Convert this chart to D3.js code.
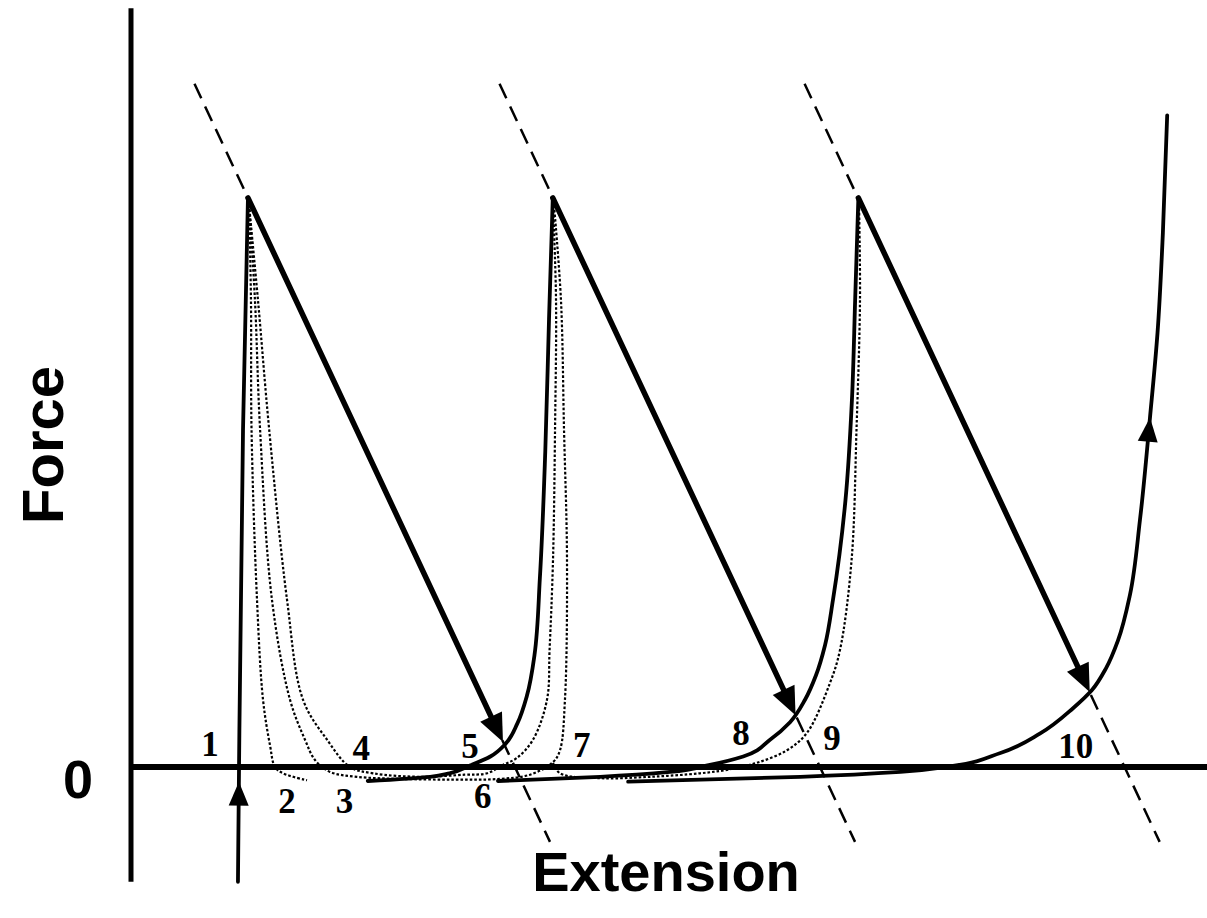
<!DOCTYPE html>
<html>
<head>
<meta charset="utf-8">
<script src="https://cdn.jsdelivr.net/npm/d3@7/dist/d3.min.js"></script>
<style>
  html, body { margin: 0; padding: 0; background: #fff; }
  svg { display: block; }
</style>
</head>
<body>
<svg id="chart" width="1207" height="918"></svg>
<script>
// ---------- data (abstract units: extension 0..100, force 0..100) ----------
const xAxisExtent = [0, 100];
const yAxisExtent = [-16.4, 108.4];
const yTickLabels = [0];
const xTitle = "Extension";
const yTitle = "Force";

// solid loading curves
const loadCurve0 = [[9.94,-16.4],[10.04,0],[10.41,48.1],[10.87,81.3]];
const loadCurve1 = [[22.0,-2.0],[27.8,-1.4],[29.6,-0.9],[31.5,0.2],[33.4,1.5],[34.8,3.3],[35.9,6.2],[36.8,10.2],[37.5,16.0],[38.0,27.0],[38.5,45.0],[38.85,64.0],[39.2,81.3]];
const loadCurve2 = [[34.1,-2.0],[43.6,-1.4],[50.1,-0.7],[53.8,0.3],[56.9,1.5],[59.39,3.9],[61.25,6.4],[62.64,9.6],[63.66,13.1],[64.5,17.4],[65.24,23.9],[66.4,38.1],[67.0,52.4],[67.3,66.7],[67.6,81.3]];
const loadCurve3 = [[46.2,-2.1],[62.2,-1.4],[71.5,-0.7],[76.1,0.1],[80.8,2.0],[84.5,4.8],[87.55,8.4],[89.31,11.0],[90.61,14.1],[91.73,18.1],[92.84,24.6],[93.77,35.3],[94.7,49.9],[95.4,62.0],[95.9,76.3],[96.3,93.1]];

// dotted relaxation curves
const relaxCurve1 = [[10.97,80.3],[11.15,66.7],[11.2,48.4],[11.71,23.9],[12.27,9.6],[12.92,3.1],[13.38,0],[14.13,-0.9],[16.36,-1.9]];
const relaxCurve2 = [[10.97,80.3],[11.52,66.7],[11.99,48.4],[13.10,23.9],[14.78,9.6],[16.17,3.9],[17.10,1.0],[18.49,-0.7],[21.0,-1.4],[25.0,-1.7],[30.0,-1.8],[34.29,-1.7],[37.08,-1.1],[39.22,0.7],[39.87,2.4],[40.33,9.6],[40.52,29.6],[40.24,48.4],[39.96,66.7],[39.31,80.3]];
const relaxCurve3 = [[10.97,80.3],[11.80,66.7],[12.83,48.4],[14.50,23.9],[15.99,9.6],[18.22,3.9],[20.35,0],[22.49,-0.9],[26.86,-1.4],[31.0,-1.1],[33.09,-0.9],[34.57,0.3],[35.87,1.3],[37.36,3.9],[38.66,9.6],[38.9,16.7],[39.22,29.6],[39.41,48.4],[39.50,66.7],[39.22,80.3]];
const relaxCurve4 = [[39.22,0.6],[39.87,-0.9],[43.59,-1.6],[48.23,-1.4],[52.88,-0.9],[55.39,-0.4],[58.18,0.6],[60.97,2.4],[62.83,4.9],[64.96,12.0],[65.89,16.7],[66.97,29.6],[67.43,48.4],[67.75,66.7],[67.66,80.3]];

// rupture arrows (peak -> tip) and their dashed guide lines
const peaks = [[10.87,81.3],[39.2,81.3],[67.6,81.3]];
const arrowTips = [[34.57,3.57],[61.76,7.4],[89.1,10.7]];
const dashTop = [[5.9,97.6],[34.25,97.6],[62.6,97.6]];
const dashBottom = [[38.94,-10.7],[67.29,-10.7],[95.6,-10.7]];

// state labels
const stateLabels = ["1","2","3","4","5","6","7","8","9","10"];
const stateLabelX = [7.34,14.5,19.85,21.4,31.5,32.7,41.9,56.7,65.15,87.8];
const stateLabelY = [1.6,-6.6,-6.6,1.0,1.3,-5.9,1.4,3.1,2.4,1.3];

// ---------- drawing ----------
const svg = d3.select("#chart");
const x = d3.scaleLinear().domain([0,100]).range([131,1207]);
const y = d3.scaleLinear().domain([0,100]).range([767,67]);

const dottedLine = d3.line().x(d => x(d[0])).y(d => y(d[1])).curve(d3.curveCatmullRom.alpha(0.5));
const solidLine = d3.line().x(d => x(d[0])).y(d => y(d[1])).curve(d3.curveMonotoneY);

// axes
svg.append("line")
  .attr("x1", x(0)).attr("x2", x(0))
  .attr("y1", y(yAxisExtent[0])).attr("y2", y(yAxisExtent[1]))
  .attr("stroke", "#000").attr("stroke-width", 5);
svg.append("line")
  .attr("x1", x(xAxisExtent[0])).attr("x2", x(xAxisExtent[1]))
  .attr("y1", y(0)).attr("y2", y(0))
  .attr("stroke", "#000").attr("stroke-width", 6);

// dashed guides
dashTop.forEach((t, i) => {
  const b = dashBottom[i];
  svg.append("line")
    .attr("x1", x(t[0])).attr("y1", y(t[1]))
    .attr("x2", x(b[0])).attr("y2", y(b[1]))
    .attr("stroke", "#000").attr("stroke-width", 2.5)
    .attr("stroke-dasharray", "16,9");
});

// dotted curves
[relaxCurve1, relaxCurve2, relaxCurve3, relaxCurve4].forEach(c => {
  svg.append("path").attr("d", dottedLine(c))
    .attr("fill", "none").attr("stroke", "#000")
    .attr("stroke-width", 2.2).attr("stroke-dasharray", "2.6,2");
});

// solid curves
[loadCurve0, loadCurve1, loadCurve2, loadCurve3].forEach(c => {
  svg.append("path").attr("d", solidLine(c))
    .attr("fill", "none").attr("stroke", "#000")
    .attr("stroke-width", 3.8).attr("stroke-linecap", "round");
});

function arrowHead(tipPx, dirPx, len, half) {
  const L = Math.hypot(dirPx[0], dirPx[1]);
  const ux = dirPx[0]/L, uy = dirPx[1]/L;
  const bx = tipPx[0] - ux*len, by = tipPx[1] - uy*len;
  const px = -uy, py = ux;
  svg.append("path")
    .attr("d", `M${tipPx[0]},${tipPx[1]}L${bx+px*half},${by+py*half}L${bx-px*half},${by-py*half}Z`)
    .attr("fill", "#000");
  return [bx, by];
}

// rupture arrows
peaks.forEach((p, i) => {
  const t = arrowTips[i];
  const P = [x(p[0]), y(p[1])], T = [x(t[0]), y(t[1])];
  const base = arrowHead(T, [T[0]-P[0], T[1]-P[1]], 28, 12);
  svg.append("line")
    .attr("x1", P[0]).attr("y1", P[1])
    .attr("x2", base[0] + (T[0]-base[0])*0.2).attr("y2", base[1] + (T[1]-base[1])*0.2)
    .attr("stroke", "#000").attr("stroke-width", 5.5).attr("stroke-linecap", "round");
});

// arrowheads on curves
{
  const a = loadCurve0[0], b = loadCurve0[1];
  const tip = [x(10.03), y(-2.1)];
  arrowHead(tip, [x(b[0])-x(a[0]), y(b[1])-y(a[1])], 24, 10);
}
{
  const i = 12;
  const a = loadCurve3[i-1], b = loadCurve3[i+1];
  const tip = [x(loadCurve3[i][0]), y(loadCurve3[i][1])];
  arrowHead(tip, [x(b[0])-x(a[0]), y(b[1])-y(a[1])], 24, 10);
}

// state labels
stateLabels.forEach((s, i) => {
  svg.append("text")
    .attr("x", x(stateLabelX[i])).attr("y", y(stateLabelY[i]))
    .attr("text-anchor", "middle")
    .attr("font-family", "'Liberation Serif', 'Times New Roman', serif")
    .attr("font-weight", "bold").attr("font-size", 35)
    .text(s);
});

// y tick label
yTickLabels.forEach(v => {
  svg.append("text")
    .attr("x", 78).attr("y", y(v) + 31)
    .attr("text-anchor", "middle")
    .attr("font-family", "'Liberation Sans', Arial, sans-serif")
    .attr("font-weight", "bold").attr("font-size", 54)
    .text(String(v));
});

// axis titles
svg.append("text")
  .attr("x", 666).attr("y", 891)
  .attr("text-anchor", "middle")
  .attr("font-family", "'Liberation Sans', Arial, sans-serif")
  .attr("font-weight", "bold").attr("font-size", 56)
  .text(xTitle);
svg.append("text")
  .attr("transform", "translate(63,445) rotate(-90)")
  .attr("text-anchor", "middle")
  .attr("font-family", "'Liberation Sans', Arial, sans-serif")
  .attr("font-weight", "bold").attr("font-size", 58)
  .text(yTitle);
</script>
</body>
</html>
